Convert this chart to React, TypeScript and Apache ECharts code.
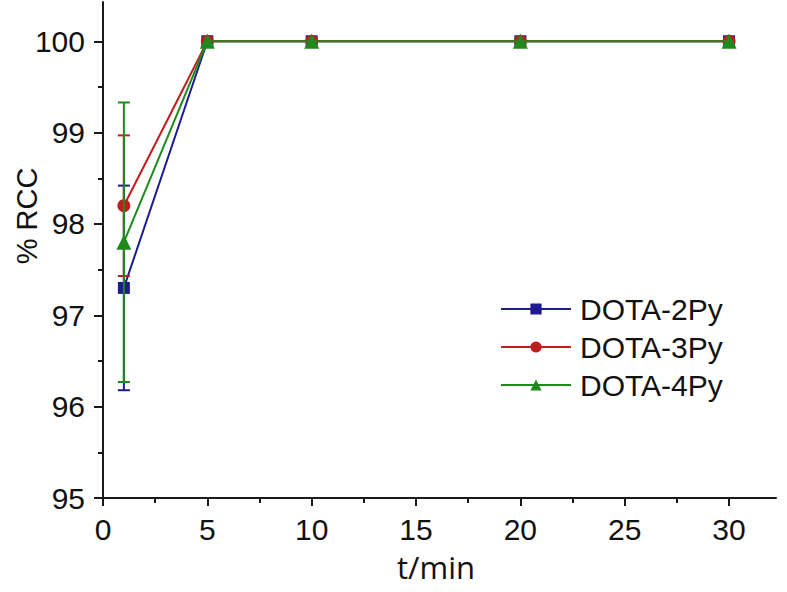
import React, { useEffect, useRef } from "react";
import * as echarts from "echarts";

const times = [1, 5, 10, 20, 30];
const rcc2Py = [97.3, 100, 100, 100, 100];
const err2Py = [1.12, 0, 0, 0, 0];
const rcc3Py = [98.2, 100, 100, 100, 100];
const err3Py = [0.77, 0, 0, 0, 0];
const rcc4Py = [97.8, 100, 100, 100, 100];
const err4Py = [1.53, 0, 0, 0, 0];

const xMajor = [0, 5, 10, 15, 20, 25, 30];
const xMinor = [2.5, 7.5, 12.5, 17.5, 22.5, 27.5];
const yMajor = [95, 96, 97, 98, 99, 100];
const yMinor = [95.5, 96.5, 97.5, 98.5, 99.5];

const names = ["DOTA-2Py", "DOTA-3Py", "DOTA-4Py"];
const colors = ["#1c1c8e", "#c01e1e", "#1e8a1e"];
const symbols = ["rect", "circle", "triangle"];
const symbolSizes = [12, 13, 15];

const FONT = "'Liberation Sans', Arial, sans-serif";

export default function App() {
  const ref = useRef<HTMLDivElement>(null);
  useEffect(() => {
    if (!ref.current) return;
    const chart = echarts.init(ref.current, undefined, { renderer: "svg" });
    const values = [rcc2Py, rcc3Py, rcc4Py];
    const errs = [err2Py, err3Py, err4Py];
    const series: any[] = [];
    values.forEach((vals, i) => {
      series.push({
        name: names[i],
        type: "line",
        data: times.map((t, k) => [t, vals[k]]),
        symbol: symbols[i],
        symbolSize: symbolSizes[i],
        itemStyle: { color: colors[i] },
        lineStyle: { color: colors[i], width: 2 },
        z: 3 + i * 2,
      });
      series.push({
        name: names[i] + " err",
        type: "custom",
        data: times
          .map((t, k) => [t, vals[k], errs[i][k]])
          .filter((d) => d[2] > 0),
        encode: { x: 0, y: 1 },
        z: 4 + i * 2,
        renderItem: (params: any, api: any) => {
          const x = api.value(0);
          const y = api.value(1);
          const e = api.value(2);
          const top = api.coord([x, y + e]);
          const bot = api.coord([x, y - e]);
          const hw = 6;
          const st = { stroke: colors[i], lineWidth: 2 };
          return {
            type: "group",
            children: [
              { type: "line", shape: { x1: top[0], y1: top[1], x2: bot[0], y2: bot[1] }, style: st },
              { type: "line", shape: { x1: top[0] - hw, y1: top[1], x2: top[0] + hw, y2: top[1] }, style: st },
              { type: "line", shape: { x1: bot[0] - hw, y1: bot[1], x2: bot[0] + hw, y2: bot[1] }, style: st },
            ],
          };
        },
      });
    });

    const axisLineStyle = { color: "#1a1a1a", width: 2 };

    chart.setOption({
      animation: false,
      backgroundColor: "#ffffff",
      grid: { left: 103, right: 11, top: 2, bottom: 94 },
      legend: {
        data: names,
        orient: "vertical",
        left: 500,
        top: 290,
        padding: 0,
        itemWidth: 70,
        itemHeight: 14,
        itemGap: 0,
        textStyle: {
          fontFamily: FONT,
          fontSize: 30,
          color: "#111",
          lineHeight: 38,
          padding: [0, 0, 0, 4],
        },
      },
      xAxis: [
        {
          type: "value",
          min: 0,
          max: 32.25,
          axisLine: { show: true, onZero: false, lineStyle: axisLineStyle },
          axisTick: { show: true, length: 8, customValues: xMajor, lineStyle: axisLineStyle },
          axisLabel: {
            customValues: xMajor,
            margin: 16,
            fontSize: 30,
            fontFamily: FONT,
            color: "#111",
          },
          splitLine: { show: false },
        },
        {
          type: "value",
          min: 0,
          max: 32.25,
          position: "bottom",
          axisLine: { show: false },
          axisTick: { show: true, length: 5, customValues: xMinor, lineStyle: axisLineStyle },
          axisLabel: { show: false },
          splitLine: { show: false },
        },
      ],
      yAxis: [
        {
          type: "value",
          min: 95,
          max: 100.43,
          axisLine: { show: true, onZero: false, lineStyle: axisLineStyle },
          axisTick: { show: true, length: 9, customValues: yMajor, lineStyle: axisLineStyle },
          axisLabel: {
            customValues: yMajor,
            margin: 18,
            fontSize: 30,
            fontFamily: FONT,
            color: "#111",
          },
          splitLine: { show: false },
        },
        {
          type: "value",
          min: 95,
          max: 100.43,
          position: "left",
          axisLine: { show: false },
          axisTick: { show: true, length: 5, customValues: yMinor, lineStyle: axisLineStyle },
          axisLabel: { show: false },
          splitLine: { show: false },
        },
      ],
      graphic: [
        {
          type: "text",
          x: 436,
          y: 567,
          style: {
            text: "t/min",
            align: "center",
            verticalAlign: "middle",
            font: "31px 'Open Sans', sans-serif",
            lineHeight: 31,
            fill: "#111",
          },
        },
        {
          type: "text",
          x: 27,
          y: 216,
          rotation: Math.PI / 2,
          style: {
            text: "% RCC",
            align: "center",
            verticalAlign: "middle",
            font: "29px 'Liberation Sans', Arial, sans-serif",
            fill: "#111",
          },
        },
      ],
      series,
    });
    return () => chart.dispose();
  }, []);
  return (
    <div
      ref={ref}
      style={{ position: "absolute", left: 0, top: 0, width: 787, height: 592 }}
    />
  );
}
